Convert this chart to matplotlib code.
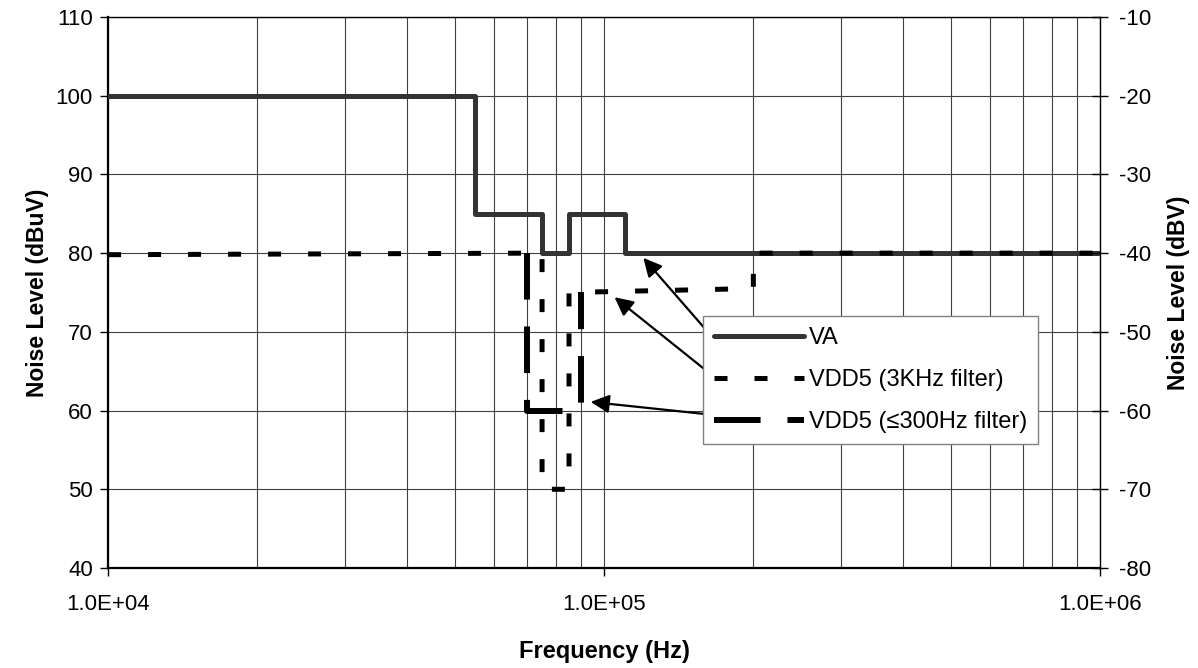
import numpy as np
import matplotlib
matplotlib.use("Agg")
import matplotlib.pyplot as plt
from matplotlib.ticker import FixedLocator, FuncFormatter, LogLocator, NullFormatter

plt.rcParams['font.family'] = ['Liberation Sans', 'DejaVu Sans']
plt.rcParams['axes.unicode_minus'] = False

# step curves (frequency in Hz, level in dBuV)
va_freq = [1e4, 55e3, 55e3, 75e3, 75e3, 85e3, 85e3, 110e3, 110e3, 1e6]
va_level = [100, 100, 85, 85, 80, 80, 85, 85, 80, 80]

f3k_freq = [1e4, 75e3, 75e3, 85e3, 85e3, 200e3, 200e3, 1e6]
f3k_level = [79.8, 80, 50, 50, 75, 75.5, 80, 80]

f300_freq = [70e3, 70e3, 90e3, 90e3]
f300_level = [80, 60, 60, 75]

labels = ["VA", "VDD5 (3KHz filter)", "VDD5 (\u2264300Hz filter)"]
left_ticks = [40, 50, 60, 70, 80, 90, 100, 110]
right_ticks = [-80, -70, -60, -50, -40, -30, -20, -10]

# arrows: (tail freq, tail level, tip freq, tip level)
arrows = [
    (166e3, 69.2, 120e3, 79.4),
    (165e3, 64.5, 105e3, 74.4),
    (169e3, 59.4, 94e3, 61.1),
]

fig = plt.figure(figsize=(11.98, 6.68), dpi=100)
ax = fig.add_axes([0.0902, 0.1497, 0.828, 0.8249])

l1, = ax.plot(va_freq, va_level, color='#333333', lw=3.6, solid_joinstyle='round',
              solid_capstyle='round', zorder=3)
l2, = ax.plot(f3k_freq, f3k_level, color='black', lw=3.6, dashes=(2.6, 5.4),
              dash_capstyle='butt', zorder=4)
l3, = ax.plot(f300_freq, f300_level, color='black', lw=4.3, dashes=(7.8, 4.5),
              dash_capstyle='butt', zorder=5)

ax.set_xscale('log')
ax.set_xlim(1e4, 1e6)
ax.set_ylim(40, 110)
ax.yaxis.set_major_locator(FixedLocator(left_ticks))
ax.xaxis.set_major_locator(FixedLocator([1e4, 1e5, 1e6]))
ax.xaxis.set_minor_locator(LogLocator(base=10, subs=np.arange(2, 10)))
ax.xaxis.set_minor_formatter(NullFormatter())
ax.xaxis.set_major_formatter(FuncFormatter(lambda v, p: f"{v:.1E}"))

ax.grid(True, which='both', axis='x', color='#404040', lw=0.8)
ax.grid(True, which='major', axis='y', color='#404040', lw=0.8)
ax.set_axisbelow(True)

ax.tick_params(axis='both', which='major', labelsize=16, length=6, width=1, direction='out')
ax.tick_params(axis='y', which='major', pad=5)
ax.tick_params(axis='x', which='major', pad=13)
ax.tick_params(axis='x', which='minor', length=0)
for s in ['left', 'bottom']:
    ax.spines[s].set_linewidth(1.6)
for s in ['top', 'right']:
    ax.spines[s].set_linewidth(1.0)

ax.set_xlabel('Frequency (Hz)', fontsize=17, fontweight='bold', labelpad=18)
ax.set_ylabel('Noise Level (dBuV)', fontsize=16.5, fontweight='bold', labelpad=5)

ax2 = ax.twinx()
ax2.set_ylim(left_ticks[0] - 120, left_ticks[-1] - 120)
ax2.yaxis.set_major_locator(FixedLocator(right_ticks))
ax2.tick_params(axis='y', labelsize=16, length=12, width=1, direction='inout', pad=8)
ax2.set_ylabel('Noise Level (dBV)', fontsize=16.5, fontweight='bold', labelpad=11)
for s in ax2.spines.values():
    s.set_visible(False)

leg = ax2.legend([l1, l2, l3], labels, loc='upper left', bbox_to_anchor=(0.5998, 0.4574),
                 fontsize=17, handlelength=3.8, handletextpad=0.22, borderpad=0.47,
                 labelspacing=0.85, fancybox=False, framealpha=1, edgecolor='#808080',
                 borderaxespad=0)
leg.get_frame().set_linewidth(1.0)
leg.set_zorder(10)

for tx, ty, hx, hy in arrows:
    ax.annotate('', xy=(hx, hy), xytext=(tx, ty),
                arrowprops=dict(arrowstyle='-|>', mutation_scale=28, lw=1.6,
                                color='black', shrinkA=0, shrinkB=0),
                zorder=12)

fig.savefig('out.png', dpi=100)
